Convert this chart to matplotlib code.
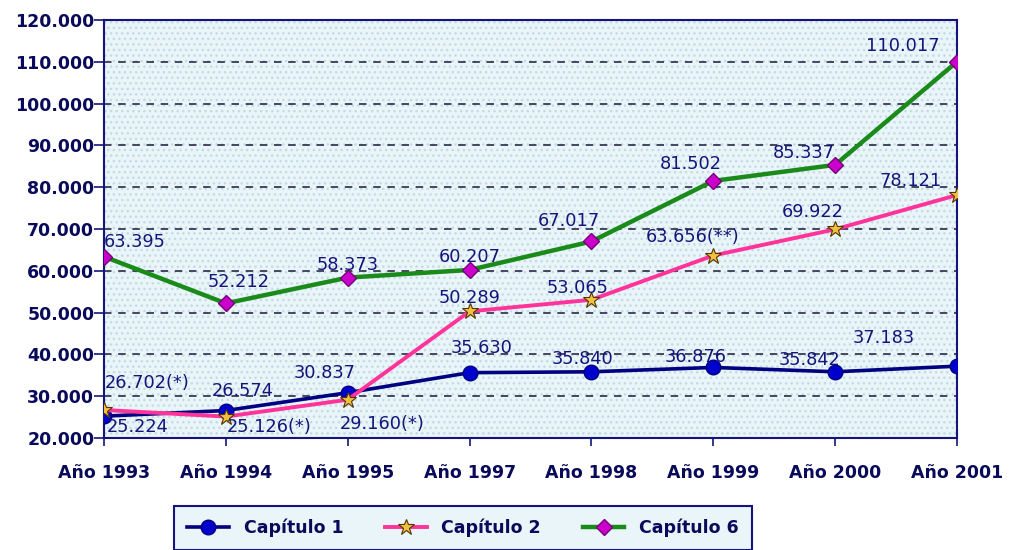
import matplotlib.pyplot as plt
from matplotlib.patches import Rectangle

years = ['Año 1993', 'Año 1994', 'Año 1995', 'Año 1997', 'Año 1998',
         'Año 1999', 'Año 2000', 'Año 2001']
cap1 = [25224, 26574, 30837, 35630, 35840, 36876, 35842, 37183]
cap2 = [26702, 25126, 29160, 50289, 53065, 63656, 69922, 78121]
cap6 = [63395, 52212, 58373, 60207, 67017, 81502, 85337, 110017]
cap2_notes = ['(*)', '(*)', '(*)', '', '', '(**)', '', '']
y_ticks = [20000, 30000, 40000, 50000, 60000, 70000, 80000, 90000, 100000, 110000, 120000]

NAVY = '#14147a'
TXT = '#0a0a5a'
BG = '#e9f5f8'


def fmt(v):
    return f'{v:,}'.replace(',', '.')


plt.rcParams['font.family'] = ['DejaVu Sans']

fig = plt.figure(figsize=(10.11, 5.5), dpi=100)
ax = fig.add_axes([104 / 1011, 1 - 438 / 550, 853 / 1011, 418 / 550])
ax.set_facecolor(BG)
# dotted background texture
ax.add_patch(Rectangle((0, 0), 1, 1, transform=ax.transAxes, facecolor='none',
                       edgecolor='#c4dbe5', hatch='...', lw=0, zorder=0))

x = list(range(len(years)))

for y in y_ticks[1:-1]:
    ax.axhline(y, color='#2a2a48', lw=1.2, ls=(0, (4.5, 4)), zorder=1)

ax.plot(x, cap1, color='#000080', lw=2.6, marker='o', ms=10.5,
        mfc='#0000cc', mec='#000080', label='Capítulo 1', zorder=3)
ax.plot(x, cap2, color='#ff3399', lw=2.8, marker='*', ms=12,
        mfc='#f0c040', mec='#553300', mew=0.8, label='Capítulo 2', zorder=4)
ax.plot(x, cap6, color='#1a8a1a', lw=3.2, marker='D', ms=8,
        mfc='#cc00cc', mec='#770077', label='Capítulo 6', zorder=3)

lab = dict(color=NAVY, fontsize=12.8, va='center', zorder=5,
           textcoords='offset pixels')

# label offsets in pixels: (dx, dy, ha)
off1 = [(3, -11, 'left'), (17, 20, 'center'), (-23, 20, 'center'), (12, 25, 'center'),
        (-9, 13, 'center'), (-18, 10, 'center'), (-26, 12, 'center'), (-42, 28, 'right')]
off2 = [(1, 27, 'left'), (1, -10, 'left'), (-8, -24, 'left'), (0, 13, 'center'),
        (-14, 12, 'center'), (-21, 19, 'center'), (-22, 17, 'center'), (-15, 14, 'right')]
off6 = [(0, 15, 'left'), (13, 21, 'center'), (0, 13, 'center'), (0, 13, 'center'),
        (-23, 20, 'center'), (-23, 17, 'center'), (0, 12, 'right'), (-17, 16, 'right')]

for i in x:
    dx, dy, ha = off1[i]
    ax.annotate(fmt(cap1[i]), (i, cap1[i]), xytext=(dx, dy), ha=ha, **lab)
    dx, dy, ha = off2[i]
    ax.annotate(fmt(cap2[i]) + cap2_notes[i], (i, cap2[i]), xytext=(dx, dy), ha=ha, **lab)
    dx, dy, ha = off6[i]
    ax.annotate(fmt(cap6[i]), (i, cap6[i]), xytext=(dx, dy), ha=ha, **lab)

ax.set_xlim(0, len(years) - 1)
ax.set_ylim(20000, 120000)
ax.set_xticks(x)
ax.set_xticklabels(years)
ax.set_yticks(y_ticks)
ax.set_yticklabels([fmt(v) for v in y_ticks])
for lbl in ax.get_xticklabels() + ax.get_yticklabels():
    lbl.set_fontweight('bold')
    lbl.set_color(TXT)
    lbl.set_fontsize(12.5)
ax.tick_params(axis='x', direction='out', length=6, width=1.2, color=NAVY, pad=13)
ax.tick_params(axis='y', direction='out', length=7, width=1.2, color=NAVY, pad=0)
for s in ax.spines.values():
    s.set_color(NAVY)
    s.set_linewidth(1.5)

leg = fig.legend(loc='center', bbox_to_anchor=(463 / 1011, 1 - 528 / 550), ncol=3,
                 frameon=True, fancybox=False, handlelength=2.4, handletextpad=0.85,
                 columnspacing=2.4, borderpad=0.75,
                 prop={'weight': 'bold', 'size': 12.5})
leg.get_frame().set_edgecolor(NAVY)
leg.get_frame().set_linewidth(1.5)
leg.get_frame().set_facecolor(BG)
leg.get_frame().set_alpha(1)
for t in leg.get_texts():
    t.set_color(TXT)

fig.savefig('out.png', dpi=100)
